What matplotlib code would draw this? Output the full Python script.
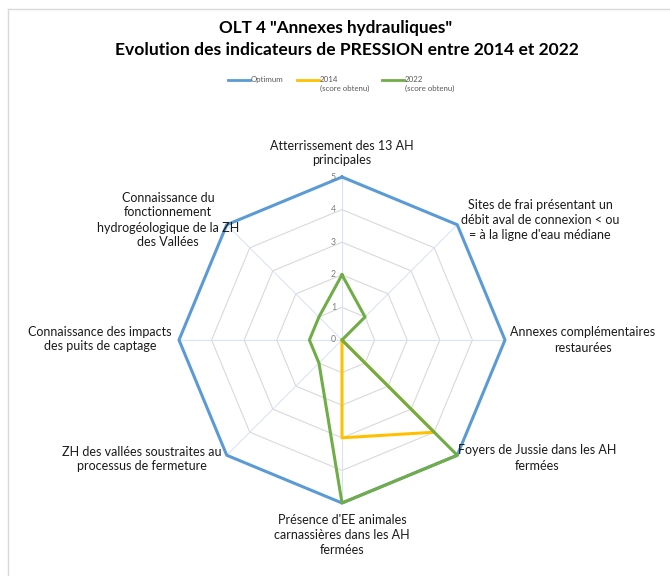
import numpy as np
import matplotlib
matplotlib.use("Agg")
import matplotlib.pyplot as plt
from matplotlib.lines import Line2D
from matplotlib.transforms import offset_copy

plt.rcParams['font.family'] = ['Lato', 'DejaVu Sans']

categories = [
    "Atterrissement des 13 AH\nprincipales",
    "Sites de frai présentant un\ndébit aval de connexion < ou\n= à la ligne d'eau médiane",
    "Annexes complémentaires\nrestaurées",
    "Foyers de Jussie dans les AH\nfermées",
    "Présence d'EE animales\ncarnassières dans les AH\nfermées",
    "ZH des vallées soustraites au\nprocessus de fermeture",
    "Connaissance des impacts\ndes puits de captage",
    "Connaissance du\nfonctionnement\nhydrogéologique de la ZH\ndes Vallées",
]
optimum = [5, 5, 5, 5, 5, 5, 5, 5]
score_2014 = [0, 0, 0, 4, 3, 0, 0, 0]
score_2022 = [2, 1, 0, 5, 5, 1, 1, 1]
radial_ticks = [0, 1, 2, 3, 4, 5]
series_names = ["Optimum", "2014\n(score obtenu)", "2022\n(score obtenu)"]
colors = ["#5B9BD5", "#FFC000", "#70AD47"]

W, H = 670, 576
fig = plt.figure(figsize=(W / 100, H / 100), dpi=100)

def fx(x):
    return x / W

def fy(y):
    return 1 - y / H

# chart frame
fig.add_artist(Line2D([fx(8), fx(8)], [fy(9), fy(H + 5)], color="#D9D9D9", lw=1))
fig.add_artist(Line2D([fx(8), fx(W + 5)], [fy(9), fy(9)], color="#D9D9D9", lw=1))

cx, cy, R = 342, 340, 163
ax = fig.add_axes([fx(cx - R), fy(cy + R), 2 * R / W, 2 * R / H], projection="polar")
ax.set_theta_zero_location("N")
ax.set_theta_direction(-1)
ax.set_ylim(0, 5)
ax.grid(False)
ax.set_xticks([])
ax.set_yticks([])
ax.spines["polar"].set_visible(False)
ax.patch.set_alpha(0)

n = len(categories)
angles = np.linspace(0, 2 * np.pi, n, endpoint=False)
closed = np.concatenate([angles, angles[:1]])

# polygon gridlines
for r in radial_ticks[1:5]:
    ax.plot(closed, [r] * (n + 1), color="#D9D9D9", lw=0.8, zorder=1)
for a in angles:
    ax.plot([a, a], [0, 5], color="#DAE3F3", lw=0.8, zorder=1)

def close(v):
    return list(v) + [v[0]]

ax.plot(closed, close(optimum), color=colors[0], lw=2.2, zorder=3, clip_on=False)
ax.plot(closed, close(score_2014), color=colors[1], lw=2.2, zorder=4, clip_on=False)
ax.plot(closed, close(score_2022), color=colors[2], lw=2.2, zorder=5, clip_on=False)

tick_tr = offset_copy(ax.transData, fig=fig, x=-6, y=0, units="dots")
for r in radial_ticks:
    ax.text(0, r, str(r), transform=tick_tr, ha="right", va="center",
            fontsize=6.3, color="#7F7F7F", zorder=6)

# category labels
label_pos = [(342, 153), (540, 220), (583, 340), (537, 458),
             (342, 535), (142, 459), (100, 339), (168, 220)]
for lab, (x, y) in zip(categories, label_pos):
    fig.text(fx(x), fy(y), lab, ha="center", va="center", fontsize=9,
             color="#1A1A1A", linespacing=1.3)

# title
fig.text(fx(336), fy(28), 'OLT 4 "Annexes hydrauliques"', ha="center", va="center",
         fontsize=12.3, fontweight="bold", color="#000000")
fig.text(fx(347), fy(50), "Evolution des indicateurs de PRESSION entre 2014 et 2022",
         ha="center", va="center", fontsize=12.6, fontweight="bold", color="#000000")

# legend
leg_x = [228, 297, 382]
for x0, name, c in zip(leg_x, series_names, colors):
    fig.add_artist(Line2D([fx(x0), fx(x0 + 22)], [fy(80), fy(80)], color=c, lw=2))
    fig.text(fx(x0 + 23), fy(76), name, ha="left", va="top", fontsize=5.7,
             color="#595959", linespacing=1.3)

fig.savefig("out.png", dpi=100)
